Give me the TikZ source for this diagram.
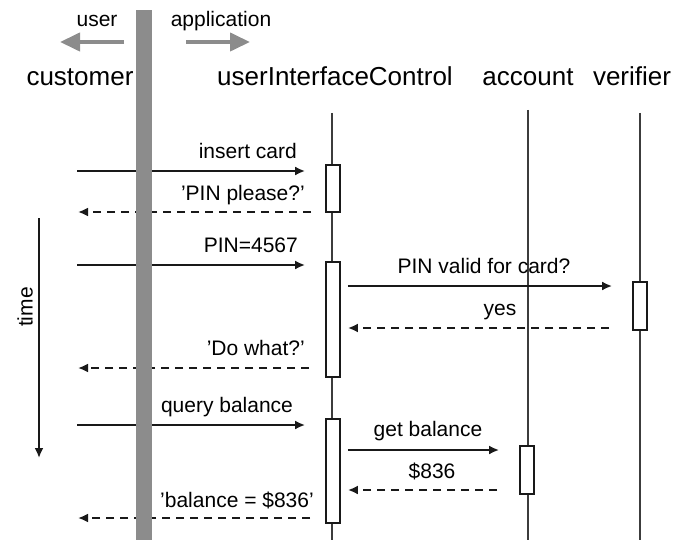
\documentclass[tikz,border=0pt]{standalone}
\usepackage{fontspec}
\setmainfont{Liberation Sans}
\definecolor{inkgray}{RGB}{25, 25, 25}
\definecolor{bargray}{RGB}{140, 140, 140}
\usetikzlibrary{arrows.meta, positioning}

\tikzset{
  hdr/.style={font=\fontsize{26}{30}\selectfont, text=black, anchor=base, inner sep=0pt},
  lbl/.style={font=\fontsize{21}{25}\selectfont, text=black, inner sep=0pt},
  lifeline/.style={line width=2.2pt, draw=inkgray!85},
  actbox/.style={draw=inkgray, fill=white, line width=1.8pt, minimum width=14pt, inner sep=0pt},
  call/.style={line width=2.2pt, draw=inkgray, -{Latex[length=10pt,width=9pt]}},
  reply/.style={call, dash pattern=on 8pt off 6pt},
  side/.style={line width=4pt, draw=bargray, -{Triangle[length=20pt,width=18pt]}}
}

\begin{document}
\begin{tikzpicture}[x=1pt, y=-1pt]
  \useasboundingbox (0,0) rectangle (676,540);

  % top: user / application
  \node[lbl, anchor=base] (usr) at (97,27) {user};
  \node[lbl, anchor=base] (app) at (221,27) {application};
  \draw[side] (124,42) -- (60,42);
  \draw[side] (186,42) -- (250,42);

  % objects
  \node[hdr] (cust) at (80,86) {customer};
  \node[hdr] (uic) at (335,86) {userInterfaceControl};
  \node[hdr] (acct) at (528,86) {account};
  \node[hdr] (ver) at (632,86) {verifier};

  % lifelines
  \coordinate (uicL) at (332,113);
  \coordinate (acctL) at (528,110);
  \coordinate (verL) at (640,113);
  \draw[lifeline] (uicL) -- (uicL |- 0,540);
  \draw[lifeline] (acctL) -- (acctL |- 0,540);
  \draw[lifeline] (verL) -- (verL |- 0,540);

  % activations
  \node[actbox, minimum height=47pt] (act1) at (333,188.5) {};
  \node[actbox, minimum height=115pt] (act2) at (333,319.5) {};
  \node[actbox, minimum height=104pt] (act3) at (333,471) {};
  \node[actbox, minimum height=48pt] (vact) at (640,306) {};
  \node[actbox, minimum height=48pt] (aact) at (527,470) {};

  % customer side ends
  \coordinate (m1) at (77,171);
  \coordinate (m2) at (78,212);
  \coordinate (m3) at (77,265);
  \coordinate (m6) at (78,368);
  \coordinate (m7) at (77,425);
  \coordinate (m10) at (78,518);

  % messages
  \draw[call, shorten >=20pt] (m1) -- (act1.west |- m1);
  \node[lbl, anchor=base east] (l1) at (297,158) {insert card};
  \draw[reply, shorten <=14pt] (act1.west |- m2) -- (m2);
  \node[lbl, anchor=base east] (l2) at (305,200) {'PIN please?'};
  \draw[call, shorten >=20pt] (m3) -- (act2.west |- m3);
  \node[lbl, anchor=base east] (l3) at (298,252) {PIN=4567};
  \draw[call, shorten <=7pt, shorten >=20pt] (act2.east |- 0,286) -- (vact.west |- 0,286);
  \node[lbl, anchor=base] (l4) at (484,273) {PIN valid for card?};
  \draw[reply, shorten <=23pt, shorten >=7pt] (vact.west |- 0,328) -- (act2.east |- 0,328);
  \node[lbl, anchor=base] (l5) at (500,315) {yes};
  \draw[reply, shorten <=16pt] (act2.west |- m6) -- (m6);
  \node[lbl, anchor=base east] (l6) at (305,355) {'Do what?'};
  \draw[call, shorten >=20pt] (m7) -- (act3.west |- m7);
  \node[lbl, anchor=base] (l7) at (227,412) {query balance};
  \draw[call, shorten <=7pt, shorten >=20pt] (act3.east |- 0,450) -- (aact.west |- 0,450);
  \node[lbl, anchor=base] (l8) at (428,436) {get balance};
  \draw[reply, shorten <=22pt, shorten >=7pt] (aact.west |- 0,490) -- (act3.east |- 0,490);
  \node[lbl, anchor=base] (l9) at (432,478) {\$836};
  \draw[reply, shorten <=15pt] (act3.west |- m10) -- (m10);
  \node[lbl, anchor=base] (l10) at (237,507) {'balance = \$836'};

  % time
  \coordinate (t0) at (39,218);
  \coordinate (t1) at (39,458);
  \draw[call] (t0) -- (t1);
  \node[lbl, rotate=90] (tm) at (25,307) {time};

  % user / application divider
  \fill[bargray] (136,10) rectangle (152,540);
\end{tikzpicture}
\end{document}
